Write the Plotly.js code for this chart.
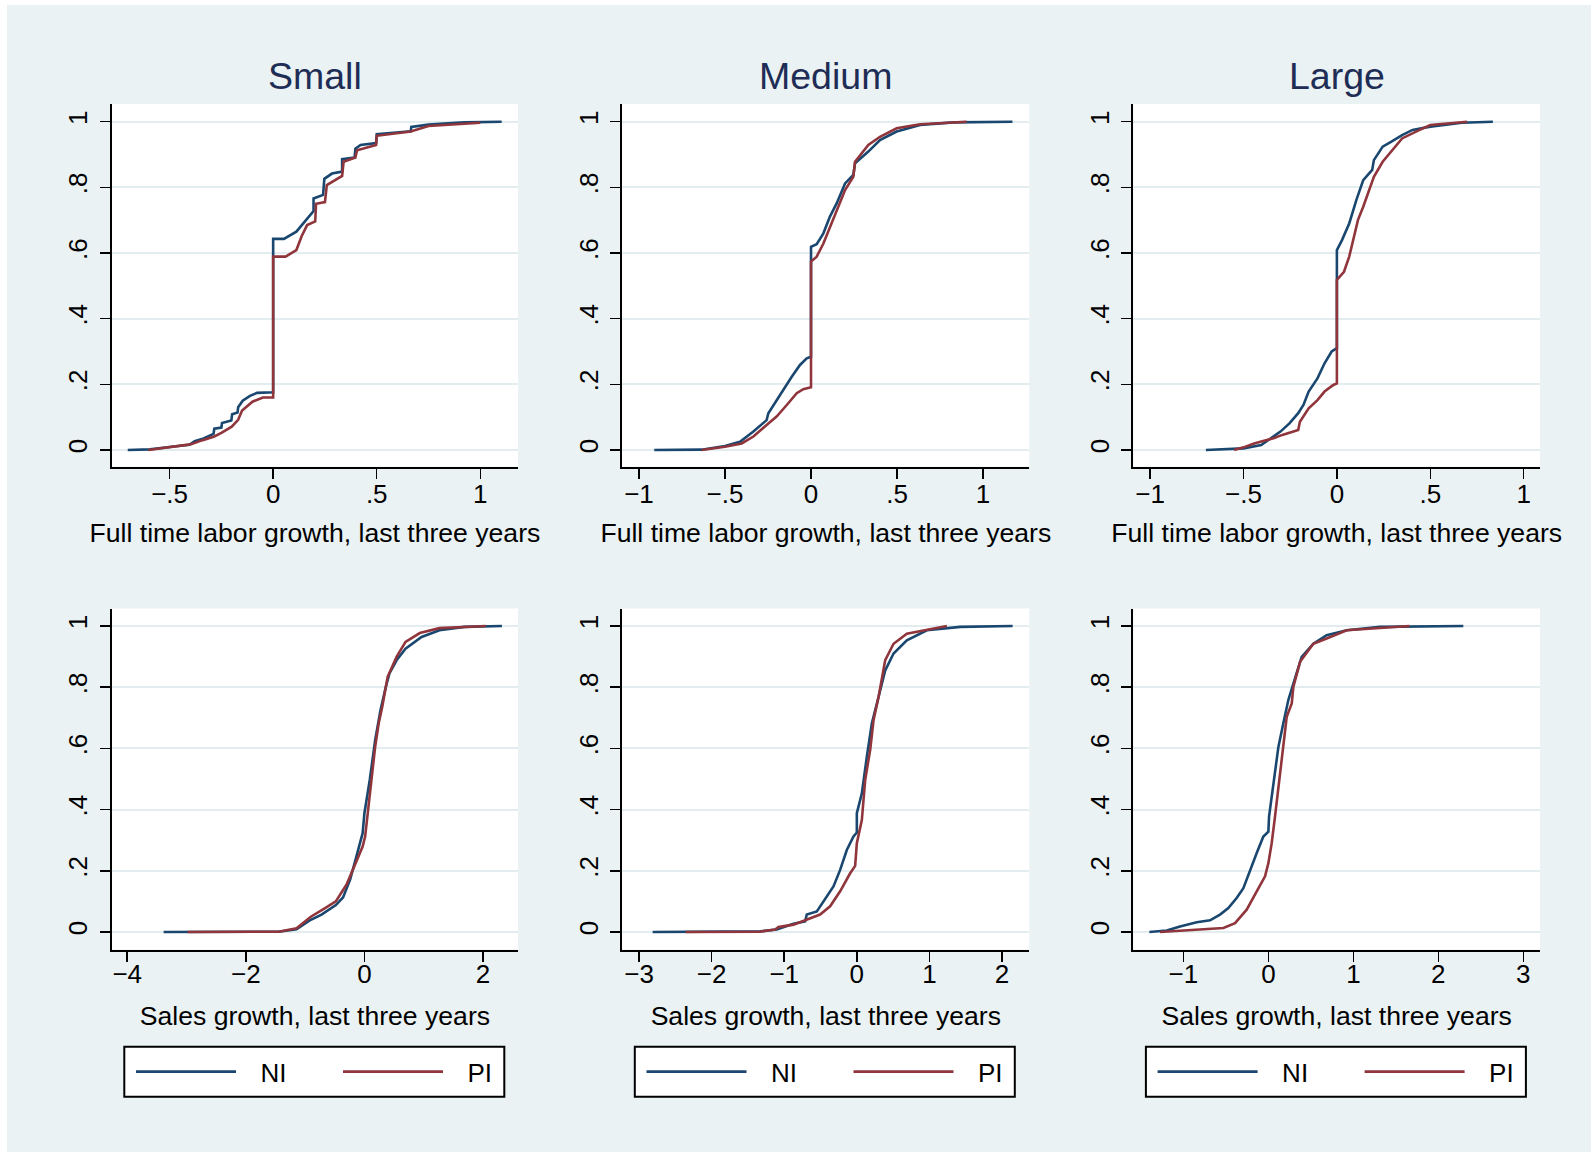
<!DOCTYPE html>
<html>
<head>
<meta charset="utf-8">
<script src="https://cdn.plot.ly/plotly-3.0.1.min.js"></script>
<style>
  html, body { margin: 0; padding: 0; background: #ffffff; }
  #chart { width: 1591px; height: 1154px; }
</style>
</head>
<body>
<div id="chart"></div>
<script>
// Empirical CDFs of three-year growth, NI vs PI firms, by firm size.

// ---- Full time labor growth: Small ----
const smallLaborNI_x = [-0.702, -0.595, -0.5, -0.405, -0.379, -0.336, -0.288, -0.284, -0.25, -0.247, -0.202, -0.198, -0.172, -0.169, -0.147, -0.112, -0.078, 0, 0, 0.052, 0.112, 0.147, 0.181, 0.195, 0.195, 0.241, 0.247, 0.284, 0.333, 0.333, 0.393, 0.397, 0.422, 0.497, 0.5, 0.578, 0.664, 0.667, 0.75, 0.922, 1.103];
const smallLaborNI_y = [0, 0.002, 0.009, 0.016, 0.027, 0.035, 0.049, 0.065, 0.068, 0.082, 0.09, 0.109, 0.114, 0.13, 0.15, 0.165, 0.174, 0.176, 0.643, 0.643, 0.665, 0.693, 0.72, 0.728, 0.766, 0.777, 0.826, 0.842, 0.848, 0.886, 0.891, 0.918, 0.929, 0.935, 0.962, 0.967, 0.971, 0.984, 0.991, 0.998, 1.0];
const smallLaborPI_x = [-0.603, -0.5, -0.4, -0.34, -0.284, -0.25, -0.2, -0.169, -0.15, -0.1, -0.05, 0, 0, 0.06, 0.112, 0.138, 0.164, 0.203, 0.207, 0.25, 0.259, 0.333, 0.34, 0.397, 0.405, 0.497, 0.5, 0.664, 0.75, 1.0];
const smallLaborPI_y = [0, 0.008, 0.017, 0.03, 0.041, 0.052, 0.071, 0.092, 0.12, 0.147, 0.16, 0.16, 0.589, 0.589, 0.609, 0.652, 0.685, 0.696, 0.75, 0.755, 0.807, 0.835, 0.878, 0.891, 0.913, 0.929, 0.957, 0.97, 0.987, 0.997];

// ---- Full time labor growth: Medium ----
const mediumLaborNI_x = [-0.911, -0.636, -0.5, -0.413, -0.335, -0.258, -0.248, -0.2, -0.161, -0.112, -0.064, -0.025, 0, 0, 0.033, 0.072, 0.11, 0.149, 0.198, 0.246, 0.256, 0.333, 0.401, 0.498, 0.634, 0.828, 1.171];
const mediumLaborNI_y = [0, 0.001, 0.012, 0.025, 0.056, 0.091, 0.112, 0.152, 0.183, 0.223, 0.259, 0.279, 0.284, 0.619, 0.627, 0.66, 0.711, 0.751, 0.812, 0.838, 0.873, 0.909, 0.944, 0.97, 0.99, 0.998, 1.0];
const mediumLaborPI_x = [-0.636, -0.5, -0.403, -0.335, -0.248, -0.2, -0.141, -0.083, -0.045, 0, 0, 0.033, 0.072, 0.11, 0.159, 0.198, 0.246, 0.256, 0.333, 0.401, 0.498, 0.634, 0.905];
const mediumLaborPI_y = [0, 0.01, 0.02, 0.041, 0.081, 0.102, 0.137, 0.173, 0.185, 0.191, 0.574, 0.589, 0.629, 0.68, 0.741, 0.792, 0.832, 0.878, 0.929, 0.954, 0.98, 0.992, 1.0];

// ---- Full time labor growth: Large ----
const largeLaborNI_x = [-0.701, -0.5, -0.405, -0.339, -0.302, -0.254, -0.207, -0.179, -0.151, -0.104, -0.066, -0.028, 0, 0, 0.028, 0.066, 0.104, 0.141, 0.189, 0.198, 0.245, 0.292, 0.349, 0.405, 0.5, 0.669, 0.835];
const largeLaborNI_y = [0, 0.005, 0.015, 0.041, 0.056, 0.081, 0.112, 0.137, 0.178, 0.218, 0.264, 0.3, 0.31, 0.609, 0.64, 0.69, 0.761, 0.822, 0.853, 0.883, 0.924, 0.939, 0.959, 0.975, 0.985, 0.997, 1.0];
const largeLaborPI_x = [-0.55, -0.5, -0.443, -0.339, -0.292, -0.207, -0.198, -0.151, -0.104, -0.066, -0.019, 0, 0, 0.038, 0.066, 0.094, 0.113, 0.141, 0.17, 0.198, 0.245, 0.292, 0.349, 0.443, 0.5, 0.697];
const largeLaborPI_y = [0, 0.008, 0.02, 0.036, 0.046, 0.061, 0.086, 0.127, 0.152, 0.178, 0.198, 0.203, 0.518, 0.543, 0.589, 0.66, 0.701, 0.741, 0.787, 0.832, 0.878, 0.909, 0.949, 0.975, 0.99, 1.0];

// ---- Sales growth: Small ----
const smallSalesNI_x = [-3.386, -1.446, -1.145, -0.904, -0.723, -0.482, -0.361, -0.241, -0.12, -0.03, 0, 0.09, 0.181, 0.271, 0.361, 0.422, 0.542, 0.693, 0.964, 1.265, 1.687, 2.319];
const smallSalesNI_y = [0, 0.001, 0.009, 0.04, 0.057, 0.088, 0.113, 0.171, 0.258, 0.323, 0.388, 0.497, 0.627, 0.725, 0.801, 0.845, 0.888, 0.926, 0.964, 0.986, 0.997, 1.0];
const smallSalesPI_x = [-2.982, -1.446, -1.145, -0.904, -0.663, -0.482, -0.301, -0.181, -0.03, 0.012, 0.09, 0.181, 0.241, 0.301, 0.392, 0.542, 0.693, 0.934, 1.265, 2.048];
const smallSalesPI_y = [0, 0.001, 0.012, 0.05, 0.078, 0.1, 0.155, 0.21, 0.279, 0.312, 0.454, 0.605, 0.682, 0.736, 0.834, 0.899, 0.948, 0.977, 0.993, 1.0];

// ---- Sales growth: Medium ----
const mediumSalesNI_x = [-2.813, -1.333, -1.103, -0.873, -0.712, -0.689, -0.551, -0.46, -0.39, -0.322, -0.23, -0.138, -0.046, 0, 0, 0.069, 0.138, 0.207, 0.299, 0.391, 0.506, 0.689, 0.965, 1.425, 2.146];
const mediumSalesNI_y = [0, 0.002, 0.008, 0.027, 0.035, 0.057, 0.067, 0.1, 0.122, 0.149, 0.203, 0.268, 0.312, 0.325, 0.388, 0.453, 0.573, 0.682, 0.768, 0.855, 0.91, 0.953, 0.986, 0.997, 1.0];
const mediumSalesPI_x = [-2.358, -1.333, -1.126, -1.08, -0.873, -0.689, -0.506, -0.368, -0.23, -0.092, -0.023, 0, 0.069, 0.115, 0.184, 0.23, 0.299, 0.391, 0.506, 0.689, 0.965, 1.241];
const mediumSalesPI_y = [0, 0.001, 0.008, 0.016, 0.024, 0.04, 0.057, 0.084, 0.133, 0.192, 0.216, 0.29, 0.366, 0.497, 0.595, 0.692, 0.768, 0.888, 0.942, 0.975, 0.988, 1.0];

// ---- Sales growth: Large ----
const largeSalesNI_x = [-1.4, -1.196, -1.039, -0.843, -0.686, -0.569, -0.471, -0.373, -0.294, -0.216, -0.137, -0.059, 0, 0.008, 0.059, 0.118, 0.176, 0.235, 0.294, 0.392, 0.529, 0.686, 0.922, 1.314, 2.294];
const largeSalesNI_y = [0, 0.005, 0.018, 0.032, 0.038, 0.057, 0.078, 0.111, 0.143, 0.203, 0.258, 0.312, 0.328, 0.377, 0.475, 0.605, 0.682, 0.758, 0.812, 0.899, 0.942, 0.97, 0.986, 0.997, 1.0];
const largeSalesPI_x = [-1.275, -1.039, -0.529, -0.392, -0.255, -0.137, -0.039, 0, 0.039, 0.078, 0.137, 0.176, 0.216, 0.275, 0.294, 0.373, 0.529, 0.686, 0.922, 1.659];
const largeSalesPI_y = [0, 0.004, 0.013, 0.029, 0.073, 0.133, 0.182, 0.225, 0.29, 0.377, 0.518, 0.605, 0.703, 0.747, 0.801, 0.883, 0.942, 0.959, 0.986, 1.0];

// ---- Labels and ticks ----
const sizeTitles = ['Small', 'Medium', 'Large'];
const laborAxisTitle = 'Full time labor growth, last three years';
const salesAxisTitle = 'Sales growth, last three years';
const groupNames = ['NI', 'PI'];
const cdfTickVals = [0, 0.2, 0.4, 0.6, 0.8, 1];
const cdfTickText = ['0', '.2', '.4', '.6', '.8', '1'];
const laborTickVals = [-1, -0.5, 0, 0.5, 1];
const laborTickText = ['\u22121', '\u2212.5', '0', '.5', '1'];
const smallSalesTickVals = [-4, -2, 0, 2];
const smallSalesTickText = ['\u22124', '\u22122', '0', '2'];
const mediumSalesTickVals = [-3, -2, -1, 0, 1, 2];
const mediumSalesTickText = ['\u22123', '\u22122', '\u22121', '0', '1', '2'];
const largeSalesTickVals = [-1, 0, 1, 2, 3];
const largeSalesTickText = ['\u22121', '0', '1', '2', '3'];

// ---- Drawing ----
const W = 1591, H = 1154;
const FONT = 'Liberation Sans, Arial, Helvetica, sans-serif';
const NAVY = '#1a476f', MAROON = '#90353b';
const BG = '#eaf2f3', GRID = '#e3ecef';

const px = v => v / W;           // horizontal pixel -> paper
const py = v => 1 - v / H;       // vertical pixel -> paper

// column plot-area edges (px) and row plot-area edges (px)
const cols = [[111.8, 518.0], [622.3, 1029.3], [1133.4, 1540.0]];
const rows = [[104.0, 466.6], [608.5, 949.5]];
const rowLabelShift = [-7, -10];
const rowTitleStandoff = [16, 19];

const panels = [
  { row: 0, col: 0, ni: [smallLaborNI_x, smallLaborNI_y], pi: [smallLaborPI_x, smallLaborPI_y], xr: [-0.779, 1.182], tv: laborTickVals, tt: laborTickText, xt: laborAxisTitle },
  { row: 0, col: 1, ni: [mediumLaborNI_x, mediumLaborNI_y], pi: [mediumLaborPI_x, mediumLaborPI_y], xr: [-1.097, 1.269], tv: laborTickVals, tt: laborTickText, xt: laborAxisTitle },
  { row: 0, col: 2, ni: [largeLaborNI_x, largeLaborNI_y], pi: [largeLaborPI_x, largeLaborPI_y], xr: [-1.089, 1.087], tv: laborTickVals, tt: laborTickText, xt: laborAxisTitle },
  { row: 1, col: 0, ni: [smallSalesNI_x, smallSalesNI_y], pi: [smallSalesPI_x, smallSalesPI_y], xr: [-4.26, 2.59], tv: smallSalesTickVals, tt: smallSalesTickText, xt: salesAxisTitle },
  { row: 1, col: 1, ni: [mediumSalesNI_x, mediumSalesNI_y], pi: [mediumSalesPI_x, mediumSalesPI_y], xr: [-3.231, 2.376], tv: mediumSalesTickVals, tt: mediumSalesTickText, xt: salesAxisTitle },
  { row: 1, col: 2, ni: [largeSalesNI_x, largeSalesNI_y], pi: [largeSalesPI_x, largeSalesPI_y], xr: [-1.588, 3.196], tv: largeSalesTickVals, tt: largeSalesTickText, xt: salesAxisTitle }
];
const yRanges = [[-0.0506, 1.0539], [-0.0572, 1.0572]];
const legendIds = ['legend', 'legend2', 'legend3'];
const KEY_PAD = '\u2002\u2005';   // gap between legend key line and its label

const traces = [];
const layout = {
  width: W, height: H,
  margin: { l: 0, r: 0, t: 0, b: 0, autoexpand: false },
  paper_bgcolor: BG,
  plot_bgcolor: '#ffffff',
  font: { family: FONT, size: 26, color: '#000000' },
  showlegend: true,
  annotations: [],
  shapes: [
    // white outer border strips
    { type: 'rect', xref: 'paper', yref: 'paper', x0: 0, x1: px(7), y0: 0, y1: 1, fillcolor: '#ffffff', line: { width: 0 } },
    { type: 'rect', xref: 'paper', yref: 'paper', x0: 0, x1: 1, y0: py(5), y1: 1, fillcolor: '#ffffff', line: { width: 0 } },
    { type: 'rect', xref: 'paper', yref: 'paper', x0: 0, x1: 1, y0: 0, y1: py(1152), fillcolor: '#ffffff', line: { width: 0 } }
  ]
};

panels.forEach((p, i) => {
  const n = i + 1;
  const xa = n === 1 ? 'x' : 'x' + n;
  const ya = n === 1 ? 'y' : 'y' + n;
  const inLegend = p.row === 1;
  const legendId = legendIds[p.col];
  [[p.ni, NAVY, groupNames[0]], [p.pi, MAROON, groupNames[1]]].forEach(([d, color, name]) => {
    traces.push({
      type: 'scatter', mode: 'lines',
      x: d[0], y: d[1],
      xaxis: xa, yaxis: ya,
      name: KEY_PAD + name,
      line: { color: color, width: 2.6 },
      showlegend: inLegend,
      legend: legendId,
      hoverinfo: 'skip'
    });
  });

  const c = cols[p.col], r = rows[p.row];
  layout[n === 1 ? 'xaxis' : 'xaxis' + n] = {
    domain: [px(c[0]), px(c[1])],
    anchor: ya,
    range: p.xr,
    tickmode: 'array', tickvals: p.tv, ticktext: p.tt,
    ticks: 'outside', ticklen: 10, tickwidth: 1.5, tickcolor: '#000',
    ticklabelstandoff: rowLabelShift[p.row],
    showline: true, linecolor: '#000', linewidth: 2,
    showgrid: false, zeroline: false,
    tickfont: { family: FONT, size: 26, color: '#000' },
    title: { text: p.xt, font: { family: FONT, size: 26.6, color: '#000' }, standoff: rowTitleStandoff[p.row] },
    fixedrange: true
  };
  layout[n === 1 ? 'yaxis' : 'yaxis' + n] = {
    domain: [py(r[1]), py(r[0])],
    anchor: xa,
    range: yRanges[p.row],
    tickmode: 'array', tickvals: cdfTickVals, ticktext: cdfTickText,
    tickangle: -90,
    ticks: 'outside', ticklen: 10, tickwidth: 1.5, tickcolor: '#000',
    ticklabelstandoff: 2,
    showline: true, linecolor: '#000', linewidth: 2,
    showgrid: true, gridcolor: GRID, gridwidth: 2,
    zeroline: false,
    tickfont: { family: FONT, size: 26, color: '#000' },
    fixedrange: true
  };
});

// size-group titles above each column
cols.forEach((c, k) => {
  layout.annotations.push({
    text: sizeTitles[k], xref: 'paper', yref: 'paper',
    x: px((c[0] + c[1]) / 2), y: py(76), xanchor: 'center', yanchor: 'middle',
    showarrow: false,
    font: { family: FONT, size: 37.5, color: '#1e2d55' }
  });
});

// one boxed legend under each bottom panel
cols.forEach((c, k) => {
  layout.shapes.push({
    type: 'rect', xref: 'paper', yref: 'paper',
    x0: px(c[0] + 12.5), x1: px(c[0] + 392.5),
    y0: py(1096.7), y1: py(1046.7),
    fillcolor: '#ffffff', line: { color: '#000000', width: 2 }
  });
  layout[legendIds[k]] = {
    orientation: 'h',
    x: px(c[0] + 19.2), xanchor: 'left',
    y: py(1071.7), yanchor: 'middle',
    bgcolor: 'rgba(0,0,0,0)', borderwidth: 0,
    font: { family: FONT, size: 26, color: '#000' },
    itemwidth: 100,
    entrywidth: 92, entrywidthmode: 'pixels',
    traceorder: 'normal'
  };
});

Plotly.newPlot('chart', traces, layout, { staticPlot: true, displayModeBar: false });
</script>
</body>
</html>
